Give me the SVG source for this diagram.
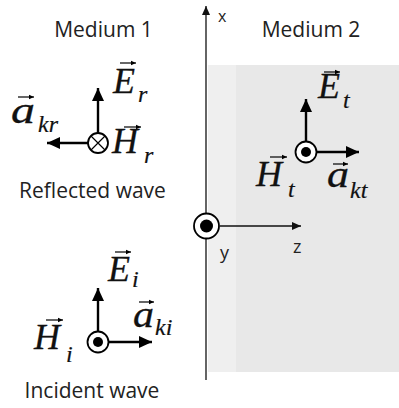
<svg xmlns="http://www.w3.org/2000/svg" width="399" height="408" viewBox="0 0 399 408">
<defs>
<marker id="big" markerUnits="userSpaceOnUse" markerWidth="14" markerHeight="12" refX="13" refY="6" orient="auto"><path d="M0,0 L13,6 L0,12 z" fill="#000"/></marker>
<marker id="ax" markerUnits="userSpaceOnUse" markerWidth="10" markerHeight="8" refX="9" refY="4" orient="auto"><path d="M0,0 L9,4 L0,8 z" fill="#111"/></marker>
<marker id="vec" markerUnits="userSpaceOnUse" markerWidth="6" markerHeight="6" refX="5.5" refY="3" orient="auto"><path d="M0,0.5 L5.5,3 L0,5.5 z" fill="#000"/></marker>
</defs>
<style>
.lbl{font-family:"Open Sans","Noto Sans",sans-serif;font-size:21px;fill:#222}
.axl{font-family:"Open Sans","Noto Sans",sans-serif;font-size:18px;fill:#222}
.v{font-family:"Liberation Serif",serif;font-style:italic;font-size:36px;fill:#111;stroke:#111;stroke-width:0.3}
.va2{font-family:"Liberation Serif",serif;font-style:italic;font-size:38px;fill:#111;stroke:#111;stroke-width:0.3}
.s{font-family:"Liberation Serif",serif;font-style:italic;font-size:24px;fill:#111;stroke:#111;stroke-width:0.2}
.arr{stroke:#000;stroke-width:2.4;fill:none;marker-end:url(#big)}
.va{stroke:#000;stroke-width:1.2;fill:none;marker-end:url(#vec)}
.ring{fill:#fff;stroke:#000;stroke-width:1.8}
</style>
<rect width="399" height="408" fill="#fff"/>
<rect x="208" y="65" width="191" height="307" fill="#e8e8e8"/>
<rect x="208" y="65" width="28" height="307" fill="#efefef"/>

<g id="connectors">
<line x1="206" y1="380" x2="206" y2="6" stroke="#111" stroke-width="1.3" marker-end="url(#ax)"/>
<line x1="220" y1="226" x2="301" y2="226" stroke="#111" stroke-width="1.3" marker-end="url(#ax)"/>
<line class="arr" x1="98" y1="133" x2="98" y2="88"/>
<line class="arr" x1="88" y1="143" x2="47" y2="143"/>
<line class="arr" x1="306" y1="141" x2="306" y2="99"/>
<line class="arr" x1="317" y1="152" x2="359" y2="152"/>
<line class="arr" x1="98" y1="331" x2="98" y2="288"/>
<line class="arr" x1="109" y1="342" x2="152" y2="342"/>
</g>

<g id="axes-labels">
<text class="axl" x="218" y="22" style="font-size:16px">x</text>
<text class="axl" x="220" y="259">y</text>
<text class="axl" x="293" y="253">z</text>
</g>

<g id="origin">
<circle class="ring" cx="206.5" cy="226" r="12.5"/>
<circle cx="206.5" cy="226" r="6.5" fill="#000"/>
</g>

<g id="medium1"><text class="lbl" x="103.5" y="37" text-anchor="middle">Medium 1</text></g>
<g id="medium2"><text class="lbl" x="311" y="37" text-anchor="middle">Medium 2</text></g>

<g id="reflected">
<circle class="ring" cx="98" cy="143" r="10"/>
<path d="M91,136 L105,150 M105,136 L91,150" stroke="#000" stroke-width="1.2"/>
<text class="v" x="113" y="93">E</text><text class="s" x="138" y="102">r</text>
<line class="va" x1="120" y1="63" x2="136" y2="63"/>
<text class="va2" x="11" y="123" textLength="24" lengthAdjust="spacingAndGlyphs">a</text><text class="s" x="38" y="132">kr</text>
<line class="va" x1="18" y1="97" x2="34" y2="97"/>
<text class="v" x="112" y="153">H</text><text class="s" x="144" y="163">r</text>
<line class="va" x1="124" y1="127" x2="141" y2="127"/>
<text class="lbl" x="92.5" y="198" text-anchor="middle">Reflected wave</text>
</g>

<g id="transmitted">
<circle class="ring" cx="306" cy="152" r="10.5"/>
<circle cx="306" cy="152" r="5" fill="#000"/>
<text class="v" x="318" y="98">E</text><text class="s" x="343" y="108">t</text>
<line class="va" x1="324" y1="72" x2="340" y2="72"/>
<text class="v" x="256" y="186">H</text><text class="s" x="288" y="197">t</text>
<line class="va" x1="270" y1="157" x2="287" y2="157"/>
<text class="va2" x="327" y="187" textLength="22" lengthAdjust="spacingAndGlyphs">a</text><text class="s" x="350" y="198">kt</text>
<line class="va" x1="333" y1="164" x2="348" y2="164"/>
</g>

<g id="incident">
<circle class="ring" cx="98" cy="342" r="10.5"/>
<circle cx="98" cy="342" r="5" fill="#000"/>
<text class="v" x="108" y="281">E</text><text class="s" x="132" y="287">i</text>
<line class="va" x1="115" y1="252" x2="131" y2="252"/>
<text class="va2" x="133" y="327" textLength="21" lengthAdjust="spacingAndGlyphs">a</text><text class="s" x="155" y="335">ki</text>
<line class="va" x1="139" y1="302" x2="154" y2="302"/>
<text class="v" x="34" y="349">H</text><text class="s" x="66" y="362">i</text>
<line class="va" x1="46" y1="320" x2="63" y2="320"/>
<text class="lbl" x="92" y="398" text-anchor="middle">Incident wave</text>
</g>
</svg>
